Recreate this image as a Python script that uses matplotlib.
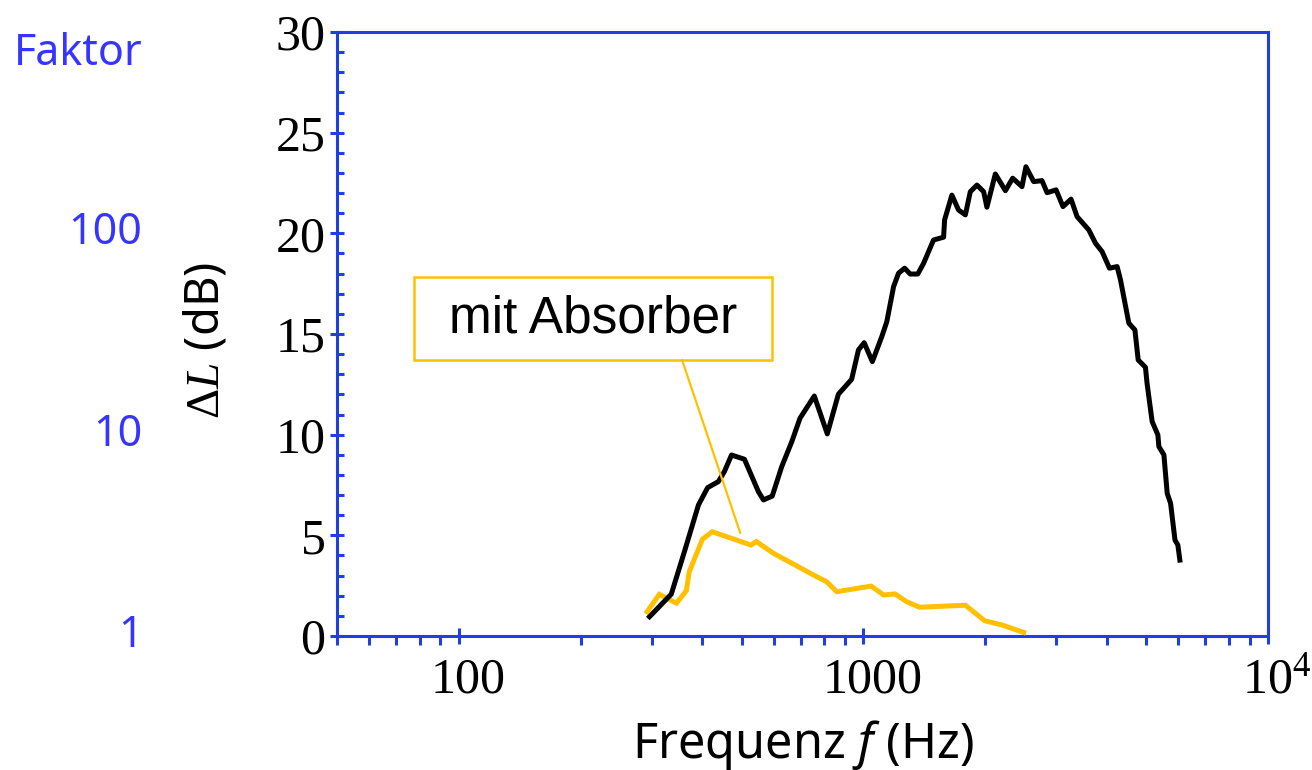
import numpy as np
import matplotlib
matplotlib.use("Agg")
import matplotlib.pyplot as plt
import matplotlib.transforms as mtransforms
from matplotlib.ticker import FixedLocator, FixedFormatter, MultipleLocator, LogLocator, NullFormatter
from matplotlib.patches import Rectangle

plt.rcParams["mathtext.fontset"] = "custom"
plt.rcParams["mathtext.rm"] = "Liberation Serif"
plt.rcParams["mathtext.it"] = "Liberation Serif:italic"
plt.rcParams["mathtext.sf"] = "Noto Sans:italic"

# black curve: level difference without absorber
f_ohne = [296, 335, 362, 391, 412, 438, 453, 472, 508, 550, 566, 595, 628, 665, 697,
          756, 814, 867, 935, 972, 1004, 1052, 1110, 1142, 1187, 1221, 1264, 1305, 1362,
          1408, 1490, 1578, 1587, 1654, 1718, 1786, 1837, 1908, 1982, 2019, 2118, 2243,
          2338, 2465, 2521, 2635, 2762, 2844, 2993, 3113, 3259, 3373, 3606, 3745, 3890,
          4056, 4236, 4318, 4528, 4688, 4776, 4977, 5023, 5171, 5342, 5372, 5528, 5633,
          5743, 5888, 5985, 6054]
dL_ohne = [0.96, 2.08, 4.27, 6.51, 7.37, 7.67, 8.16, 8.99, 8.78, 7.17, 6.76, 6.95, 8.41,
           9.65, 10.82, 11.92, 10.04, 12.01, 12.75, 14.21, 14.57, 13.63, 14.87, 15.61,
           17.35, 18.02, 18.27, 17.98, 17.98, 18.51, 19.67, 19.81, 20.67, 21.9, 21.16,
           20.92, 22.07, 22.4, 22.07, 21.3, 22.95, 22.12, 22.74, 22.32, 23.31, 22.57,
           22.62, 22.02, 22.16, 21.33, 21.7, 20.83, 20.17, 19.51, 19.09, 18.27, 18.35,
           17.69, 15.54, 15.2, 13.71, 13.35, 12.55, 10.65, 9.99, 9.41, 9.0, 7.09, 6.59,
           4.77, 4.52, 3.77]

# orange curve: with absorber
f_mit = [292, 313, 345, 365, 371, 400, 423, 527, 544, 599, 766, 811, 859, 1045, 1121,
         1197, 1280, 1376, 1786, 1993, 2199, 2489]
dL_mit = [1.21, 2.07, 1.63, 2.25, 3.19, 4.81, 5.18, 4.52, 4.69, 4.11, 2.95, 2.70, 2.20,
          2.48, 2.04, 2.09, 1.70, 1.43, 1.53, 0.76, 0.55, 0.18]

x_ticks = [100, 1000, 10000]
x_ticklabels = ["100", "1000", r"$10^{4}$"]
faktoren = [1, 10, 100]

blue = "#1f3fe0"
textblue = "#3535ff"
orange = "#ffc000"

fig = plt.figure(figsize=(13.12, 7.7), dpi=100)
ax = fig.add_axes([0.2569, 0.1740, 0.7096, 0.7844])

ax.plot(f_mit, dL_mit, color=orange, lw=3.6, solid_joinstyle="miter", zorder=3)
ax.plot(f_ohne, dL_ohne, color="black", lw=3.6, zorder=4)

ax.set_xscale("log")
ax.set_xlim(50, 1e4)
ax.set_ylim(0, 30)

ax.xaxis.set_major_locator(FixedLocator(x_ticks))
ax.xaxis.set_major_formatter(FixedFormatter(x_ticklabels))
ax.xaxis.set_minor_locator(LogLocator(base=10, subs=np.arange(2, 10)))
ax.xaxis.set_minor_formatter(NullFormatter())
ax.yaxis.set_major_locator(MultipleLocator(5))
ax.yaxis.set_minor_locator(MultipleLocator(1))

for s in ax.spines.values():
    s.set_color(blue)
    s.set_linewidth(2.2)

ax.tick_params(axis="x", which="major", direction="inout", length=12, width=2.2,
               color=blue, pad=9, labelsize=36, labelfontfamily="Liberation Serif")
ax.tick_params(axis="x", which="minor", direction="out", length=6.5, width=2.2, color=blue)
ax.tick_params(axis="y", which="major", direction="inout", length=9.5, width=2.2,
               color=blue, pad=3.5, labelsize=36, labelfontfamily="Liberation Serif")
ax.tick_params(axis="y", which="minor", direction="in", length=5, width=2.2, color=blue)

# x tick labels sit a little right of their ticks in the original
shift = mtransforms.ScaledTranslation(9 / 100, 0, fig.dpi_scale_trans)
for lab in ax.get_xticklabels():
    lab.set_transform(lab.get_transform() + shift)

ax.set_xlabel(r"Frequenz $\mathsf{f}$ (Hz)", fontsize=35, family="Noto Sans")
ax.xaxis.set_label_coords(0.5, -0.135)
ax.set_ylabel(r"$\Delta L$ (dB)", fontsize=34, family="Noto Sans")
ax.yaxis.set_label_coords(-0.115, 0.49)

# factor scale on the far left
trans = mtransforms.blended_transform_factory(fig.transFigure, ax.transData)
for fk in faktoren:
    ax.text(0.1085, 10 * np.log10(fk), str(fk), transform=trans, ha="right", va="center",
            fontsize=31, family="Noto Sans", color=textblue, clip_on=False)
ax.text(0.1085, 28.9, "Faktor", transform=trans, ha="right", va="center",
        fontsize=31, family="Noto Sans", color=textblue, clip_on=False)

# annotation box
ax.add_patch(Rectangle((0.0827, 0.457), 0.3845, 0.137, transform=ax.transAxes,
                       facecolor="white", edgecolor=orange, lw=1.8, zorder=5))
ax.text(0.275, 0.5257, "mit Absorber", transform=ax.transAxes, ha="center", va="center",
        fontsize=37, family="Liberation Sans", zorder=6)
ax.annotate("", xy=(496, 5.12), xycoords="data", xytext=(0.3706, 0.457),
            textcoords="axes fraction",
            arrowprops=dict(arrowstyle="-", color=orange, lw=1.6, shrinkA=0, shrinkB=0),
            zorder=5)

fig.savefig("out.png", dpi=100)
